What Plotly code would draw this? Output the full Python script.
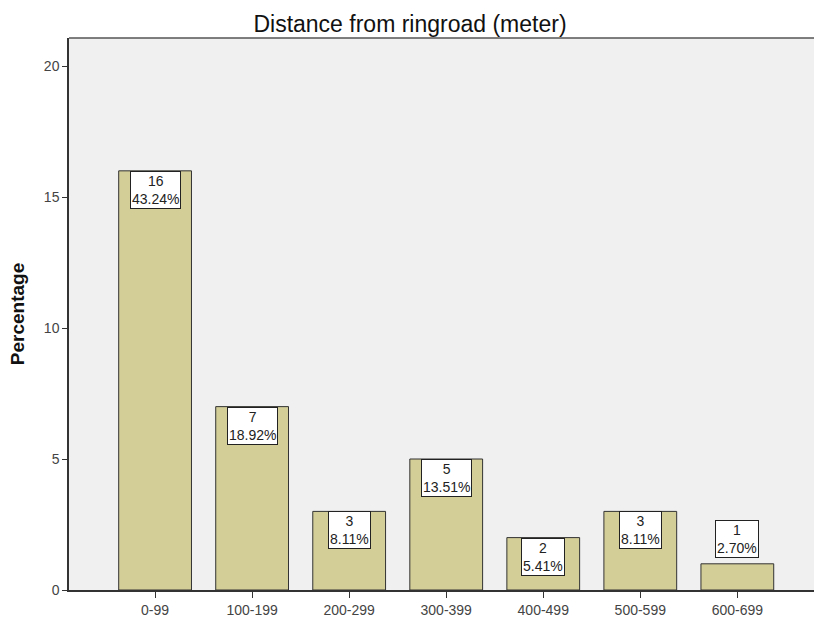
import plotly.graph_objects as go

categories = ["0-99", "100-199", "200-299", "300-399", "400-499", "500-599", "600-699"]
counts = [16, 7, 3, 5, 2, 3, 1]
percents = ["43.24%", "18.92%", "8.11%", "13.51%", "5.41%", "8.11%", "2.70%"]

FONT = "Liberation Sans, Arial, sans-serif"

fig = go.Figure()
fig.add_trace(
    go.Bar(
        x=list(range(len(categories))),
        y=counts,
        marker=dict(color="#D3CD98", line=dict(color="#333333", width=1)),
        hoverinfo="skip",
    )
)

# value boxes: inside the bar top, or above it when the bar is too short
for i, (c, p) in enumerate(zip(counts, percents)):
    inside = c >= 2
    fig.add_annotation(
        x=i,
        y=c,
        xref="x",
        yref="y",
        text=f"{c}<br>{p}",
        showarrow=False,
        yanchor="top" if inside else "bottom",
        yshift=0 if inside else 6,
        bgcolor="white",
        bordercolor="#222222",
        borderwidth=1,
        borderpad=1,
        font=dict(family=FONT, size=14, color="#222222"),
    )

# top frame line
fig.add_shape(
    type="line", xref="paper", yref="paper", x0=0, x1=1, y0=1, y1=1,
    line=dict(color="#555555", width=1.5),
)

fig.update_layout(
    width=814,
    height=617,
    margin=dict(l=69, r=0, t=38, b=27),
    paper_bgcolor="white",
    plot_bgcolor="#F0F0F0",
    bargap=0.25,
    showlegend=False,
    title=dict(
        text="Distance from ringroad (meter)",
        x=410 / 814,
        xanchor="center",
        y=1 - 24 / 617,
        yanchor="middle",
        font=dict(family=FONT, size=23, color="#111111"),
    ),
    font=dict(family=FONT),
)

fig.update_xaxes(
    range=[-0.887, 6.79],
    tickmode="array",
    tickvals=list(range(len(categories))),
    ticktext=categories,
    ticks="outside",
    ticklen=6,
    tickcolor="#333333",
    showline=True,
    linecolor="#333333",
    linewidth=1.5,
    showgrid=False,
    zeroline=False,
    tickfont=dict(family=FONT, size=14, color="#444444"),
)
fig.update_yaxes(
    range=[0, 21.07],
    tickvals=[0, 5, 10, 15, 20],
    ticks="outside",
    ticklen=5,
    tickcolor="#333333",
    showline=True,
    linecolor="#333333",
    linewidth=1.5,
    showgrid=False,
    zeroline=False,
    tickfont=dict(family=FONT, size=14, color="#444444"),
    title=dict(
        text="<b>Percentage</b>",
        font=dict(family=FONT, size=19, color="#111111"),
        standoff=14,
    ),
)

# drop the default page margin so the figure sits at the window's corner
fig.write_html(
    "out.html",
    config={"displayModeBar": False},
    post_script="document.body.style.margin='0';document.body.style.overflow='hidden';",
)
